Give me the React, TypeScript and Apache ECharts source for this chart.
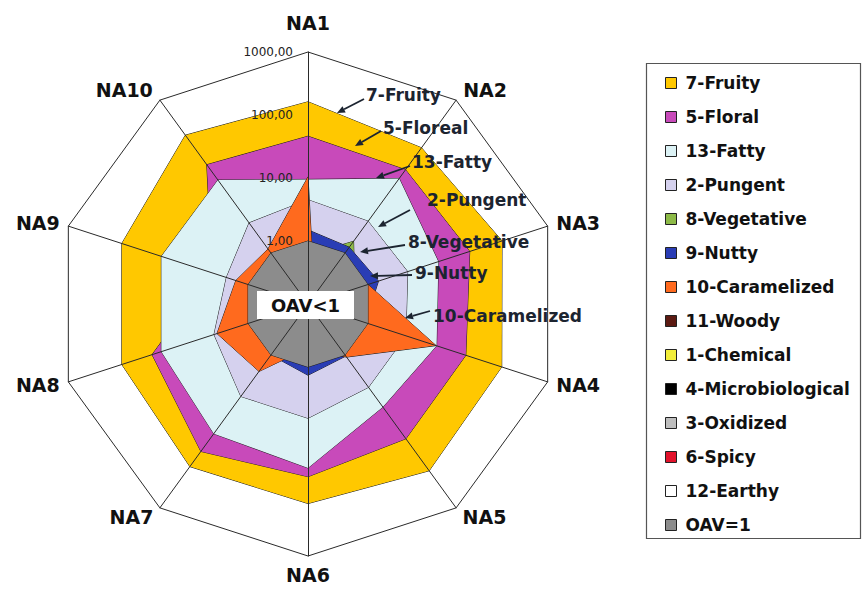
import React, { useEffect, useRef } from 'react';
import * as echarts from 'echarts';

// ---- data (OAV values) ----
const categories = ['NA1', 'NA2', 'NA3', 'NA4', 'NA5', 'NA6', 'NA7', 'NA8', 'NA9', 'NA10'];
const tickValues = [0.1, 1, 10, 100, 1000];

const fruity = [162, 116, 173, 171, 187, 147, 155, 128, 128, 205];
const floral = [46, 43, 50, 43, 44, 55, 78, 40, 4, 54];
const fatty = [9.5, 29, 15, 14, 10.5, 40, 35, 28, 28, 27];
const pungent = [4.5, 4.2, 4.6, 4.3, 4.3, 6.5, 6.5, 3.7, 2.3, 3.9];
const vegetative = [0.6, 1.7, 0.6, 0.5, 0.4, 0.4, 0.4, 0.4, 0.4, 0.4];
const nutty = [1.5, 1.3, 1.5, 0.9, 1.05, 1.35, 1.0, 0.5, 0.5, 0.6];
const caramelized = [10.4, 0.15, 1.0, 13.7, 1.1, 0.5, 2.1, 3.3, 1.6, 1.2];
const woody = [0.3, 0.4, 0.5, 0.3, 0.4, 0.3, 0.5, 0.4, 0.3, 0.4];
const chemical = [0.2, 0.3, 0.2, 0.3, 0.2, 0.3, 0.2, 0.3, 0.2, 0.3];
const microbiological = [0.4, 0.3, 0.4, 0.5, 0.3, 0.4, 0.3, 0.4, 0.5, 0.3];
const oxidized = [0.5, 0.6, 0.4, 0.5, 0.6, 0.5, 0.4, 0.6, 0.5, 0.4];
const spicy = [0.2, 0.2, 0.3, 0.2, 0.2, 0.3, 0.2, 0.2, 0.3, 0.2];
const earthy = [0.3, 0.2, 0.2, 0.3, 0.2, 0.2, 0.3, 0.2, 0.2, 0.3];
const oavOne = [1, 1, 1, 1, 1, 1, 1, 1, 1, 1];

const seriesDefs = [
  { name: '7-Fruity', values: fruity, color: '#FFC800' },
  { name: '5-Floral', values: floral, color: '#C84ABA' },
  { name: '13-Fatty', values: fatty, color: '#DCF2F5' },
  { name: '2-Pungent', values: pungent, color: '#D5D1EE' },
  { name: '8-Vegetative', values: vegetative, color: '#8DBA48' },
  { name: '9-Nutty', values: nutty, color: '#2A3DB5' },
  { name: '10-Caramelized', values: caramelized, color: '#FF6A1E' },
  { name: '11-Woody', values: woody, color: '#5C1A12' },
  { name: '1-Chemical', values: chemical, color: '#F2EE3A' },
  { name: '4-Microbiological', values: microbiological, color: '#000000' },
  { name: '3-Oxidized', values: oxidized, color: '#BEBEBE' },
  { name: '6-Spicy', values: spicy, color: '#E2122B' },
  { name: '12-Earthy', values: earthy, color: '#FFFFFF' },
  { name: 'OAV=1', values: oavOne, color: '#8C8C8C' },
];

// annotations (label text, text anchor, arrow start, arrow tip)
const annotations = [
  { text: '7-Fruity', tx: 366, ty: 95, from: [364, 99], to: [337, 113] },
  { text: '5-Floreal', tx: 383, ty: 128, from: [381, 131], to: [355, 146] },
  { text: '13-Fatty', tx: 412, ty: 162, from: [410, 166], to: [376, 178] },
  { text: '2-Pungent', tx: 427, ty: 200, from: [410, 210], to: [378, 227] },
  { text: '8-Vegetative', tx: 408, ty: 242, from: [405, 245], to: [360, 252] },
  { text: '9-Nutty', tx: 415, ty: 273, from: [412, 275], to: [370, 276] },
  { text: '10-Caramelized', tx: 433, ty: 316, from: [430, 311], to: [405, 318] },
];

const FONT = 'DejaVu Sans';
const CENTER = [308, 304];
const RADIUS = 252;

const toScale = (v: number) => Math.log10(v) + 1; // 0.1 -> 0, 1000 -> 4
const axisMin = toScale(tickValues[0]);
const axisMax = toScale(tickValues[tickValues.length - 1]);

// ECharts radar runs counter-clockwise; reorder so NA2 sits to the right of NA1
const order = [0, 9, 8, 7, 6, 5, 4, 3, 2, 1];
const nameGaps: Record<string, number> = { NA1: 20, NA2: 12, NA10: 12, NA5: 11, NA7: 11 };

function fmtTick(t: number) {
  if (t <= axisMin + 1e-9) return '';
  const v = Math.pow(10, t - 1);
  return v.toFixed(2).replace('.', ',');
}

function arrowGraphics(from: number[], to: number[]) {
  const dx = to[0] - from[0];
  const dy = to[1] - from[1];
  const len = Math.sqrt(dx * dx + dy * dy);
  const ux = dx / len;
  const uy = dy / len;
  const nx = -uy;
  const ny = ux;
  const hl = 8;
  const hw = 3.5;
  const bx = to[0] - ux * hl;
  const by = to[1] - uy * hl;
  return [
    {
      type: 'line',
      z: 90,
      shape: { x1: from[0], y1: from[1], x2: bx, y2: by },
      style: { stroke: '#1c2430', lineWidth: 1.8 },
    },
    {
      type: 'polygon',
      z: 90,
      shape: {
        points: [
          [to[0], to[1]],
          [bx + nx * hw, by + ny * hw],
          [bx - nx * hw, by - ny * hw],
        ],
      },
      style: { fill: '#1c2430' },
    },
  ];
}

export default function App() {
  const ref = useRef<HTMLDivElement>(null);

  useEffect(() => {
    if (!ref.current) return;
    const chart = echarts.init(ref.current, undefined, { renderer: 'svg' });

    const indicatorsBack = order.map((i) => ({ name: categories[i], min: axisMin, max: axisMax }));
    const indicatorsFront = order.map((i, k) => {
      const base: any = { name: categories[i], min: axisMin, max: axisMax };
      const gap = nameGaps[categories[i]];
      if (gap != null) base.nameGap = gap;
      if (k === 0) {
        base.axisLabel = {
          show: true,
          margin: 15,
          formatter: (val: number) => fmtTick(val),
          color: '#222',
          fontFamily: FONT,
          fontSize: 12,
        };
      }
      return base;
    });

    const series = seriesDefs.map((s) => ({
      type: 'radar',
      name: s.name,
      radarIndex: 0,
      z: 2,
      symbol: 'none',
      silent: true,
      itemStyle: { color: s.color },
      lineStyle: { color: '#1a1a1a', width: 1 },
      areaStyle: { color: s.color, opacity: 1 },
      data: [{ name: s.name, value: order.map((i) => toScale(s.values[i])) }],
    }));

    const graphics: any[] = [
      {
        type: 'rect',
        z: 50,
        shape: { x: 646.5, y: 63.5, width: 214, height: 475 },
        style: { fill: 'none', stroke: '#555', lineWidth: 1.2 },
      },
      {
        type: 'rect',
        z: 95,
        shape: { x: 257, y: 291, width: 97, height: 28 },
        style: { fill: '#ffffff' },
      },
      {
        type: 'text',
        z: 96,
        x: 305.5,
        y: 305,
        style: {
          text: 'OAV<1',
          fill: '#111',
          font: `bold 18px "${FONT}"`,
          align: 'center',
          verticalAlign: 'middle',
        },
      },
    ];
    annotations.forEach((a) => {
      graphics.push(...arrowGraphics(a.from, a.to));
      graphics.push({
        type: 'text',
        z: 91,
        x: a.tx,
        y: a.ty,
        style: {
          text: a.text,
          fill: '#1c2430',
          font: `bold 17px "${FONT}"`,
          align: 'left',
          verticalAlign: 'middle',
        },
      });
    });

    const common = {
      center: CENTER,
      radius: RADIUS,
      startAngle: 90,
      splitNumber: 4,
      shape: 'polygon',
      splitArea: { show: false },
      axisTick: { show: false },
    };

    chart.setOption({
      animation: false,
      backgroundColor: '#ffffff',
      radar: [
        {
          ...common,
          z: 0,
          indicator: indicatorsBack,
          axisName: { show: false },
          axisLine: { show: false },
          axisLabel: { show: false },
          splitLine: { show: true, lineStyle: { color: '#2a2a2a', width: 1 } },
        },
        {
          ...common,
          z: 10,
          indicator: indicatorsFront,
          nameGap: 9,
          axisName: {
            show: true,
            color: '#111',
            fontFamily: FONT,
            fontWeight: 'bold',
            fontSize: 19,
          },
          axisLine: { show: true, lineStyle: { color: '#2a2a2a', width: 1 } },
          axisLabel: { show: false },
          splitLine: { show: false },
        },
      ],
      legend: {
        orient: 'vertical',
        left: 665,
        top: 74.5,
        padding: 0,
        itemWidth: 11,
        itemHeight: 11,
        itemGap: 17,
        icon: 'rect',
        selectedMode: false,
        itemStyle: { borderColor: '#222', borderWidth: 1 },
        textStyle: {
          fontFamily: FONT,
          fontWeight: 'bold',
          fontSize: 17,
          lineHeight: 17,
          color: '#111',
          padding: [0, 0, 0, 4],
        },
        data: seriesDefs.map((s) => s.name),
      },
      graphic: graphics,
      series,
    });

    return () => {
      chart.dispose();
    };
  }, []);

  return (
    <div
      ref={ref}
      style={{ position: 'fixed', left: 0, top: 0, width: 863, height: 594, background: '#fff' }}
    />
  );
}
